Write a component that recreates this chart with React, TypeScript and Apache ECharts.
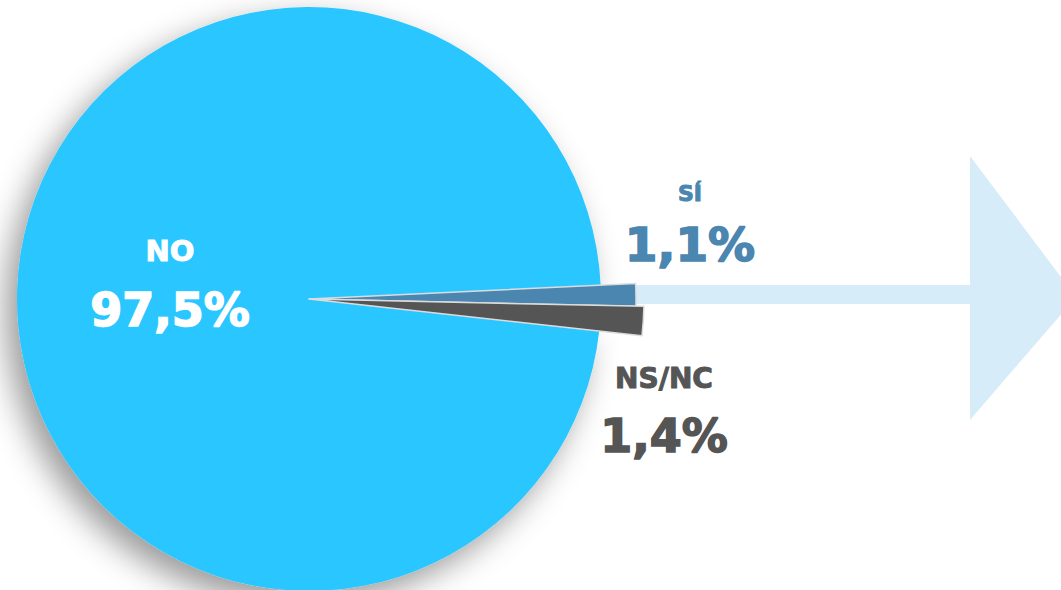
import React, { useEffect, useRef } from "react";
import * as echarts from "echarts";

// ---- data ----
const categories = ["SÍ", "NS/NC", "NO"];
const values = [1.1, 1.4, 97.5];
const valueLabels = ["1,1%", "1,4%", "97,5%"];

// ---- styles ----
const sliceColors = ["#4A86AF", "#555555", "#2BC6FF"];
const textColors = ["#4A86AF", "#555555", "#FFFFFF"];
const sliceRadii = [327, 335, 292];
const CENTER: [number, number] = [309, 299];
const START_ANGLE = 2.7;
const FONT = '"DejaVu Sans", sans-serif';

// label placement per category
const labelPos = [
  { x: 690, ny: 193, vy: 244, nSize: 22, vSize: 47 },
  { x: 664, ny: 378, vy: 436, nSize: 28, vSize: 46 },
  { x: 170, ny: 251, vy: 310, nSize: 29, vSize: 46 },
];

export default function App() {
  const ref = useRef<HTMLDivElement>(null);

  useEffect(() => {
    if (!ref.current) return;
    const chart = echarts.init(ref.current, undefined, { renderer: "svg" });

    const series = categories.map((_, i) => ({
      type: "pie",
      center: CENTER,
      radius: [0, sliceRadii[i]],
      startAngle: START_ANGLE,
      clockwise: true,
      silent: true,
      z: i === 2 ? 1 : 3,
      label: { show: false },
      labelLine: { show: false },
      emphasis: { disabled: true },
      data: categories.map((c, j) => ({
        name: c,
        value: values[j],
        itemStyle:
          j === i
            ? i === 2
              ? {
                  color: sliceColors[j],
                  shadowBlur: 32,
                  shadowColor: "rgba(0,0,0,0.4)",
                  shadowOffsetX: -11,
                  shadowOffsetY: 13,
                }
              : {
                  color: sliceColors[j],
                  borderColor: "#dcdcdc",
                  borderWidth: 1.5,
                }
            : { color: "transparent", borderWidth: 0 },
      })),
    }));

    const texts: any[] = [];
    categories.forEach((c, i) => {
      const p = labelPos[i];
      texts.push({
        type: "text",
        x: p.x,
        y: p.ny,
        z: 10,
        style: {
          text: c,
          fill: textColors[i],
          stroke: textColors[i],
          lineWidth: 1,
          font: `bold ${p.nSize}px ${FONT}`,
          textAlign: "center",
          textVerticalAlign: "middle",
        },
      });
      texts.push({
        type: "text",
        x: p.x,
        y: p.vy,
        z: 10,
        style: {
          text: valueLabels[i],
          fill: textColors[i],
          stroke: textColors[i],
          lineWidth: 1.6,
          font: `bold ${p.vSize}px ${FONT}`,
          textAlign: "center",
          textVerticalAlign: "middle",
        },
      });
    });

    chart.setOption({
      animation: false,
      backgroundColor: "#ffffff",
      graphic: [
        {
          type: "rect",
          z: 0,
          shape: { x: 636, y: 285, width: 336, height: 19 },
          style: { fill: "#D6ECF8" },
        },
        {
          type: "polygon",
          z: 0,
          shape: {
            points: [
              [970, 156],
              [1076, 297],
              [970, 420],
            ],
          },
          style: { fill: "#D6ECF8" },
        },
        ...texts,
      ],
      series,
    });

    return () => chart.dispose();
  }, []);

  return (
    <div
      ref={ref}
      style={{ position: "fixed", left: 0, top: 0, width: 1061, height: 590 }}
    />
  );
}
